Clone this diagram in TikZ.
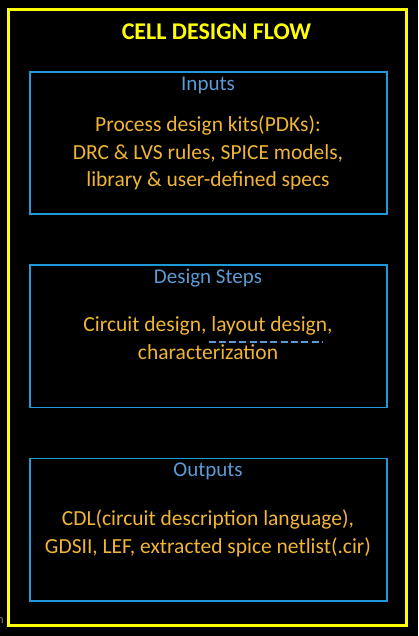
\documentclass[tikz,border=0pt]{standalone}
\usepackage{fontspec}
\setmainfont{Carlito}
\definecolor{frameyellow}{HTML}{FFFF00}
\definecolor{panelblue}{HTML}{1F9AD6}
\definecolor{headblue}{HTML}{5B9BD5}
\definecolor{bodygold}{HTML}{F0B535}
\begin{document}
\begin{tikzpicture}[x=1pt,y=-1pt,
  frame/.style={draw=frameyellow,line width=3pt},
  panel/.style={draw=panelblue,line width=1.8pt,minimum width=357pt,minimum height=142.5pt,inner sep=0pt},
  title/.style={text=frameyellow,font=\fontsize{24}{28}\selectfont\bfseries,anchor=base},
  head/.style={text=headblue,font=\fontsize{21}{26}\selectfont,anchor=base},
  body/.style={text=bodygold,font=\fontsize{21.5}{27}\selectfont,anchor=base},
  squiggle/.style={draw=headblue,line width=2pt,dash pattern=on 7pt off 3.3pt}]
  % background and page size
  \fill[black] (0,0) rectangle (418,636);
  \useasboundingbox (0,0) rectangle (418,636);
  % outer frame
  \draw[frame] (8.7,9.7) rectangle (406.7,625);
  \node[title] (ttl) at (216.5,39.3) {CELL DESIGN FLOW};

  % panels
  \node[panel] (inputs) at (208.5,143) {};
  \node[panel] (steps) at (208.5,336.2) {};
  \node[panel] (outputs) at (208.5,529.7) {};

  % Inputs
  \node[head] (ih) at (208,91) {Inputs};
  \node[body] (i1) at (208,132) {Process design kits(PDKs):};
  \node[body] (i2) at (208,159.5) {DRC \& LVS rules, SPICE models,};
  \node[body] (i3) at (208,187) {library \& user-defined specs};

  % Design steps
  \node[head] (sh) at (208,283.3) {Design Steps};
  \node[body] (s1) at (208,331) {Circuit design, layout design,};
  \node[body] (s2) at (208,359.5) {characterization};
  \coordinate (u1) at (208.5,341.5);
  \coordinate (u2) at (322,341.5);
  \draw[squiggle] (u1) -- (u2);

  % Outputs
  \node[head] (oh) at (208,476.7) {Outputs};
  \node[body] (o1) at (208,525) {CDL(circuit description language),};
  \node[body] (o2) at (208,553.3) {GDSII, LEF, extracted spice netlist(.cir)};

  % stray glyph at the left edge
  \node[text=gray,font=\fontsize{12}{14}\selectfont,anchor=base east,inner sep=0pt] (edge) at (4,623) {n};
\end{tikzpicture}
\end{document}
